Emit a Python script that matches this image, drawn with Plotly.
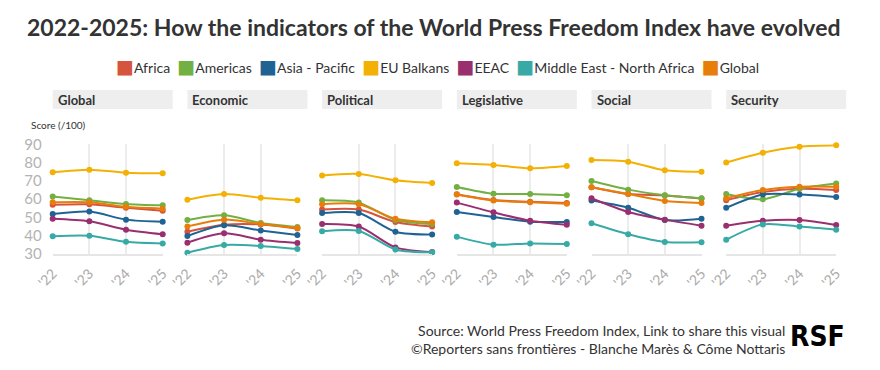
import plotly.graph_objects as go

years = [2022, 2023, 2024, 2025]
year_labels = ["'22", "'23", "'24", "'25"]

regions = ["Africa", "Americas", "Asia - Pacific", "EU Balkans", "EEAC",
           "Middle East - North Africa", "Global"]
region_colors = ["#d6533d", "#73b043", "#1e6394", "#f2b104", "#9a2f70",
                 "#38aaa6", "#e77e0a"]

indicators = ["Global", "Economic", "Political", "Legislative", "Social", "Security"]

# rows follow the order of `regions`
global_scores = [
    [57.0, 57.2, 55.3, 53.7],
    [61.4, 59.4, 57.4, 56.6],
    [51.9, 53.2, 48.8, 47.7],
    [74.7, 76.1, 74.5, 74.1],
    [49.3, 47.9, 43.3, 40.8],
    [39.7, 40.0, 36.7, 35.8],
    [58.3, 58.3, 55.8, 54.8],
]
economic_scores = [
    [42.2, 46.0, 46.2, 44.0],
    [48.6, 51.2, 47.0, 44.8],
    [39.8, 45.7, 42.9, 40.4],
    [59.7, 62.8, 60.8, 59.4],
    [36.2, 41.3, 37.8, 36.0],
    [30.7, 34.9, 34.4, 32.7],
    [45.1, 48.8, 46.4, 44.2],
]
political_scores = [
    [54.3, 54.3, 47.5, 45.0],
    [59.4, 58.1, 48.6, 46.4],
    [52.4, 52.4, 42.2, 40.6],
    [73.0, 73.8, 70.3, 68.8],
    [46.4, 45.0, 33.6, 31.1],
    [42.4, 42.6, 32.5, 30.9],
    [57.2, 57.2, 49.3, 47.3],
]
legislative_scores = [
    [62.7, 59.5, 58.6, 57.9],
    [66.7, 63.0, 62.8, 62.1],
    [53.0, 50.2, 47.7, 47.5],
    [79.6, 78.7, 76.9, 78.1],
    [58.1, 52.8, 48.2, 46.0],
    [39.5, 35.1, 35.8, 35.5],
    [62.5, 59.2, 58.3, 57.5],
]
social_scores = [
    [66.5, 62.8, 62.0, 60.3],
    [69.9, 65.2, 62.1, 60.5],
    [59.2, 55.3, 48.6, 49.3],
    [81.4, 80.5, 75.8, 75.0],
    [60.5, 53.0, 48.8, 45.5],
    [46.8, 40.8, 36.6, 36.4],
    [66.5, 62.8, 59.0, 57.9],
]
security_scores = [
    [59.4, 63.9, 65.7, 65.0],
    [62.8, 59.9, 65.7, 68.5],
    [55.3, 62.6, 62.5, 61.2],
    [80.0, 85.4, 88.7, 89.5],
    [45.5, 48.2, 48.6, 45.9],
    [37.8, 46.2, 45.0, 43.3],
    [60.5, 65.0, 66.8, 66.8],
]
all_scores = [global_scores, economic_scores, political_scores,
              legislative_scores, social_scores, security_scores]

y_ticks = [30, 40, 50, 60, 70, 80, 90]

TITLE = "2022-2025: How the indicators of the World Press Freedom Index have evolved"
SOURCE_1 = "Source: World Press Freedom Index, Link to share this visual"
SOURCE_2 = "©Reporters sans frontières - Blanche Marès &amp; Côme Nottaris"

# ---------------- layout helpers (pixels) ----------------
W, H = 880, 370
FONT = "Lato"
panel_left0 = 52.7
panel_step = 134.7
panel_span = 110.0
header_w = 120.0
plot_top, plot_bot = 144.3, 254.0
head_top, head_bot = 90.0, 109.0


def py(p):
    return 1 - p / H


fig = go.Figure()
layout_axes = {}
shapes = []
annotations = []

for i, (name, scores) in enumerate(zip(indicators, all_scores)):
    n = i + 1
    xa = "x" if n == 1 else f"x{n}"
    ya = "y" if n == 1 else f"y{n}"
    left = panel_left0 + panel_step * i
    for r, (reg, col) in enumerate(zip(regions, region_colors)):
        fig.add_trace(go.Scatter(
            x=years, y=scores[r], mode="lines+markers",
            line=dict(color=col, width=2, shape="spline", smoothing=0.8),
            marker=dict(color=col, size=6),
            name=reg, showlegend=False, cliponaxis=False,
            xaxis=xa, yaxis=ya,
        ))
    layout_axes["xaxis" if n == 1 else f"xaxis{n}"] = dict(
        domain=[left / W, (left + panel_span) / W],
        range=[years[0], years[-1]],
        tickvals=years, ticktext=year_labels, tickangle=-45,
        tickfont=dict(family=FONT, size=14, color="#aaaaaa"),
        showgrid=True, gridcolor="#ececec", gridwidth=1.5,
        showline=True, linecolor="#e6e6e6", linewidth=2,
        zeroline=False, anchor=ya, fixedrange=True,
        ticklabelstandoff=4, automargin=False,
    )
    layout_axes["yaxis" if n == 1 else f"yaxis{n}"] = dict(
        domain=[py(plot_bot), py(plot_top)],
        range=[30, 90], tickvals=y_ticks,
        showticklabels=(n == 1),
        tickfont=dict(family=FONT, size=15, color="#b3b3b3"),
        ticklabelstandoff=10,
        showgrid=False, zeroline=False, showline=False,
        anchor=xa, fixedrange=True, automargin=False,
    )
    shapes.append(dict(
        type="rect", xref="paper", yref="paper",
        x0=left / W, x1=(left + header_w) / W,
        y0=py(head_bot), y1=py(head_top),
        fillcolor="#eeeeee", line=dict(width=0), layer="below",
    ))
    annotations.append(dict(
        text=f"<b>{name}</b>", xref="paper", yref="paper",
        x=(left + 3) / W, y=py((head_top + head_bot) / 2),
        xanchor="left", yanchor="middle", showarrow=False,
        font=dict(family=FONT, size=13, color="#333333"),
    ))

# legend as a single centered line
legend_parts = []
for reg, col in zip(regions, region_colors):
    legend_parts.append(
        f"<span style='color:{col};font-size:19px;font-family:DejaVu Sans'>■</span>{reg}")
annotations.append(dict(
    text="  ".join(legend_parts), xref="paper", yref="paper",
    x=0.5 - 3 / W, y=py(66), xanchor="center", yanchor="middle", showarrow=False,
    font=dict(family=FONT, size=14, color="#333333"),
))

annotations.append(dict(
    text="Score (/100)", xref="paper", yref="paper",
    x=29 / W, y=py(124.5), xanchor="left", yanchor="middle", showarrow=False,
    font=dict(family=FONT, size=10, color="#333333"),
))

annotations.append(dict(
    text=f"<b>{TITLE}</b>", xref="paper", yref="paper",
    x=0.5 - 7 / W, y=py(27), xanchor="center", yanchor="middle", showarrow=False,
    font=dict(family=FONT, size=23, color="#333333"),
))

annotations.append(dict(
    text=SOURCE_1 + "<br>" + SOURCE_2, xref="paper", yref="paper",
    x=787 / W, y=py(339), xanchor="right", yanchor="middle", align="right",
    showarrow=False,
    font=dict(family=FONT, size=14, color="#333333"),
))
annotations.append(dict(
    text="<b>RSF</b>", xref="paper", yref="paper",
    x=817 / W, y=py(336), xanchor="center", yanchor="middle", showarrow=False,
    font=dict(family="DejaVu Sans Condensed", size=28, color="#000000"),
))

fig.update_layout(
    width=W, height=H,
    margin=dict(l=0, r=0, t=0, b=0),
    paper_bgcolor="white", plot_bgcolor="white",
    showlegend=False,
    shapes=shapes, annotations=annotations,
    **layout_axes,
)

fig.write_html("out.html", config={"displayModeBar": False},
               post_script="document.body.style.margin='0';")
